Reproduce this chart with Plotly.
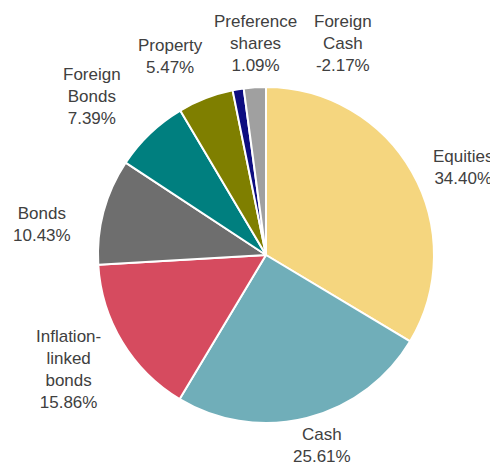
import plotly.graph_objects as go

categories = ["Equities", "Cash", "Inflation-linked bonds", "Bonds", "Foreign Bonds",
              "Property", "Preference shares", "Foreign Cash"]
label_text = ["Equities", "Cash", "Inflation-<br>linked<br>bonds", "Bonds", "Foreign<br>Bonds",
              "Property", "Preference<br>shares", "Foreign<br>Cash"]
values = [34.40, 25.61, 15.86, 10.43, 7.39, 5.47, 1.09, -2.17]
colors = ["#F5D67F", "#70AEB9", "#D64B5F", "#6E6E6E", "#007F7F", "#7F7F00", "#0D0D80", "#A0A0A0"]

# label centres (pixel coordinates in the 498x466 window)
label_pos = [(463, 168), (322, 445), (68, 369), (42, 225), (92, 96), (170, 57), (255, 43), (343, 43)]

OFF = 8  # default page body margin
W, H = 498 - OFF, 466 - OFF

def px2paper(x, y):
    return (x - OFF) / W, 1 - (y - OFF) / H

x0, y0 = px2paper(98, 423)
x1, y1 = px2paper(434, 87)

fig = go.Figure(go.Pie(
    labels=categories,
    values=[abs(v) for v in values],
    sort=False,
    direction="clockwise",
    rotation=0,
    marker=dict(colors=colors, line=dict(color="white", width=2)),
    textinfo="none",
    hoverinfo="label+value",
    showlegend=False,
    domain=dict(x=[x0, x1], y=[y0, y1]),
))

for name, v, (px, py) in zip(label_text, values, label_pos):
    ax, ay = px2paper(px, py)
    fig.add_annotation(
        x=ax, y=ay, xref="paper", yref="paper",
        text=f"{name}<br>{v:.2f}%", showarrow=False,
        xanchor="center", yanchor="middle", align="center",
        font=dict(family="Liberation Sans, Arial, sans-serif", size=17, color="#404040"),
    )

fig.update_layout(
    width=W, height=H,
    margin=dict(l=0, r=0, t=0, b=0),
    paper_bgcolor="white",
    plot_bgcolor="white",
)

fig.write_html("out.html")
